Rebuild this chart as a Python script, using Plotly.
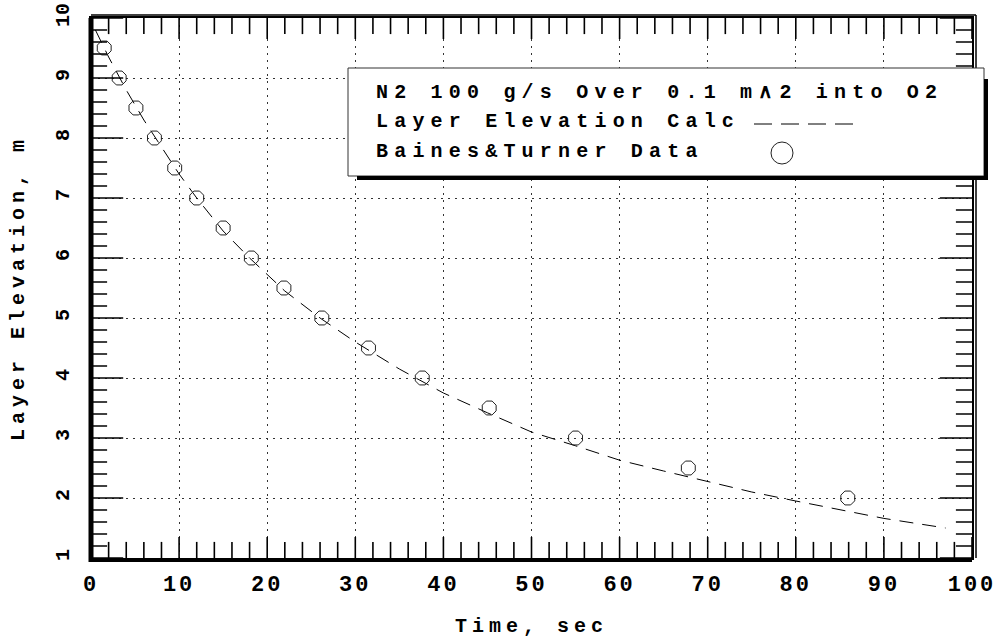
import plotly.graph_objects as go

# ---------------- data ----------------
time_calc = [0.5, 2, 4, 6, 8, 10, 12, 15, 18, 22, 26, 30, 35, 40, 45, 50, 55, 60, 65, 70, 75, 80, 85, 90, 97]
elev_calc = [9.8, 9.35, 8.8, 8.3, 7.85, 7.4, 7.0, 6.45, 6.0, 5.45, 5.0, 4.6, 4.15, 3.75, 3.42, 3.1, 2.87,
             2.63, 2.45, 2.27, 2.1, 1.95, 1.8, 1.66, 1.5]
time_data = [1.5, 3.2, 5.1, 7.2, 9.5, 12.0, 15.0, 18.2, 21.9, 26.2, 31.5, 37.6, 45.2, 55.0, 67.8, 85.9]
elev_data = [9.5, 9.0, 8.5, 8.0, 7.5, 7.0, 6.5, 6.0, 5.5, 5.0, 4.5, 4.0, 3.5, 3.0, 2.5, 2.0]
x_ticks = [0, 10, 20, 30, 40, 50, 60, 70, 80, 90, 100]
y_ticks = [1, 2, 3, 4, 5, 6, 7, 8, 9, 10]
x_minor = [v for v in range(0, 101, 2) if v % 10 != 0]
y_minor = [round(1 + 0.2 * i, 1) for i in range(46) if i % 5 != 0]
legend_title = "N2 100 g/s Over 0.1 m\u22272 into O2"
calc_name = "Layer Elevation Calc"
data_name = "Baines&Turner Data"

# ---------------- layout geometry (pixels) ----------------
W, H = 996, 638
L, R, T, B = 91, 24, 18, 80
PW, PH = W - L - R, H - T - B


def px(x):
    return (x - L) / PW


def py(y):
    return (H - B - y) / PH


FONT = "Liberation Mono"
x_lo, x_hi = x_ticks[0], x_ticks[-1]
y_lo, y_hi = y_ticks[0], y_ticks[-1]

fig = go.Figure()
fig.add_trace(go.Scatter(
    x=time_calc, y=elev_calc, mode="lines", name=calc_name,
    line=dict(color="black", width=1, dash="14px,9px"), showlegend=False))
fig.add_trace(go.Scatter(
    x=time_data, y=elev_data, mode="markers", name=data_name,
    marker=dict(symbol="octagon-open", size=15, color="#222", line=dict(width=1, color="#222")),
    showlegend=False))


def tick_trace(xs, ys, symbol, size):
    # inside tick marks on the frame: half of each line marker is clipped by the axes
    return go.Scatter(x=xs, y=ys, mode="markers", cliponaxis=True, hoverinfo="skip", showlegend=False,
                      marker=dict(symbol=symbol, size=size, color="black",
                                  line=dict(width=1.6, color="black")))


# x-axis ticks, bottom and top
fig.add_trace(tick_trace(x_minor * 2, [y_lo] * len(x_minor) + [y_hi] * len(x_minor), "line-ns", 23))
fig.add_trace(tick_trace(x_ticks * 2, [y_lo] * len(x_ticks) + [y_hi] * len(x_ticks), "line-ns", 30))
# y-axis ticks, left and right
fig.add_trace(tick_trace([x_lo] * len(y_minor) + [x_hi] * len(y_minor), y_minor * 2, "line-ew", 23))
fig.add_trace(tick_trace([x_lo] * len(y_ticks) + [x_hi] * len(y_ticks), y_ticks * 2, "line-ew", 46))

axis_common = dict(
    ticks="", showline=True, linewidth=2, linecolor="black", mirror=True,
    showgrid=True, gridcolor="#333", griddash="2px,5px", gridwidth=1,
    zeroline=False, automargin=False,
)

fig.update_layout(
    width=W, height=H,
    margin=dict(l=L, r=R, t=T, b=B, autoexpand=False),
    paper_bgcolor="white", plot_bgcolor="white",
    showlegend=False,
    xaxis=dict(
        range=[x_lo, x_hi], tickvals=x_ticks, ticktext=[str(v) for v in x_ticks],
        ticklabelstandoff=5,
        tickfont=dict(family=FONT, size=22, color="black", weight="bold"),
        title=dict(text="Time, sec", font=dict(family=FONT, size=20, color="black", weight="bold"),
                   standoff=21),
        **axis_common),
    yaxis=dict(
        range=[y_lo, y_hi], tickvals=y_ticks, ticktext=[str(v) for v in y_ticks],
        tickangle=-90, ticklabelstandoff=12,
        tickfont=dict(family=FONT, size=20, color="black", weight="bold"),
        title=dict(text="Layer Elevation, m", font=dict(family=FONT, size=20, color="black", weight="bold"),
                   standoff=22),
        **axis_common),
)

shapes = []
# heavy frame lines (left & bottom) and double lines (top & right)
shapes.append(dict(type="line", xref="paper", yref="paper", x0=px(L), x1=px(L), y0=py(H - B + 4), y1=py(T),
                   line=dict(color="black", width=5)))
shapes.append(dict(type="line", xref="paper", yref="paper", x0=px(L - 2), x1=px(W - R), y0=py(H - B + 2),
                   y1=py(H - B + 2), line=dict(color="black", width=4)))
shapes.append(dict(type="line", xref="paper", yref="paper", x0=px(L), x1=px(W - R + 4), y0=py(T - 3),
                   y1=py(T - 3), line=dict(color="black", width=1.5)))
shapes.append(dict(type="line", xref="paper", yref="paper", x0=px(W - R + 4), x1=px(W - R + 4), y0=py(H - B),
                   y1=py(T - 3), line=dict(color="black", width=1.5)))
# legend box with shadow
shapes.append(dict(type="rect", xref="paper", yref="paper", x0=px(348), x1=px(984), y0=py(176), y1=py(68),
                   fillcolor="white", line=dict(color="#333", width=1), layer="above"))
shapes.append(dict(type="line", xref="paper", yref="paper", x0=px(357), x1=px(988), y0=py(178),
                   y1=py(178), line=dict(color="black", width=4), layer="above"))
shapes.append(dict(type="line", xref="paper", yref="paper", x0=px(986), x1=px(986), y0=py(180),
                   y1=py(79), line=dict(color="black", width=4), layer="above"))
# legend samples
shapes.append(dict(type="line", xref="paper", yref="paper", x0=px(754), x1=px(854), y0=py(124),
                   y1=py(124), line=dict(color="black", width=1, dash="18px,9px"), layer="above"))
shapes.append(dict(type="circle", xref="paper", yref="paper", x0=px(771), x1=px(793), y0=py(164),
                   y1=py(142), line=dict(color="#222", width=1), layer="above"))
fig.update_layout(shapes=shapes)

legend_font = dict(family=FONT, size=20, color="black", weight="bold")
for text, yc in [(legend_title, 93), (calc_name, 122), (data_name, 151)]:
    fig.add_annotation(text=text, xref="paper", yref="paper", x=px(374), y=py(yc),
                       xanchor="left", yanchor="middle", align="left", showarrow=False,
                       font=legend_font)

post = """
var st=document.createElement('style');
st.textContent='html,body{margin:0;padding:0;overflow:hidden}' +
 '.xtick text{letter-spacing:3px}' +
 '.g-xtitle text,.g-ytitle text{letter-spacing:5px}' +
 '.annotation-text{letter-spacing:6.2px}';
document.head.appendChild(st);
"""

fig.write_html("out.html", post_script=post, config={"displayModeBar": False})
